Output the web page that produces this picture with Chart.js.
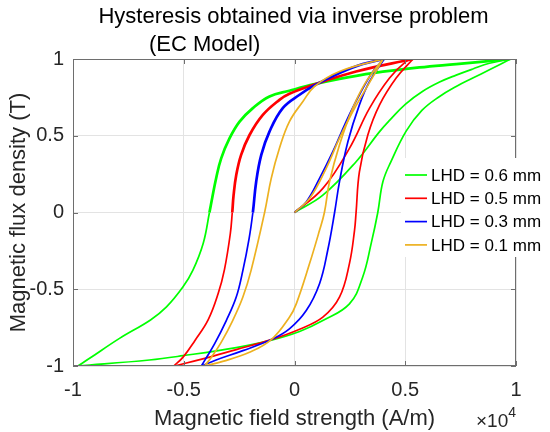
<!DOCTYPE html>
<html>
<head>
<meta charset="utf-8">
<script src="https://cdn.jsdelivr.net/npm/chart.js@4.4.1/dist/chart.umd.min.js"></script>
<style>
  html, body { margin: 0; padding: 0; background: #fff; }
  #wrap { width: 550px; height: 432px; }
</style>
</head>
<body>
<div id="wrap"><canvas id="hystChart"></canvas></div>
<script>
// legend entries, in plot order
var lhdLabels = ['LHD = 0.6 mm', 'LHD = 0.5 mm', 'LHD = 0.3 mm', 'LHD = 0.1 mm'];
var lhdColors = ['#00ff00', '#ff0000', '#0000ff', '#edb120'];

// axis ticks (H in A/m, shown as x10^4)
var xTicks = [-10000, -5000, 0, 5000, 10000];
var yTicks = [-1, -0.5, 0, 0.5, 1];

// H (A/m) and B (T) read off the loops: initial curve, descending branch, ascending branch
// LHD = 0.6 mm
var g_initH = [0, 1280, 2780, 3840, 4290, 5000, 5790, 6550, 7300, 8050, 8800, 9750];
var g_initB = [0, 0.113, 0.331, 0.527, 0.60, 0.705, 0.79, 0.85, 0.895, 0.935, 0.972, 1.0];
var g_downH = [9750, 7300, 5640, 3540, 2030, 900, -230, -1130, -1880, -2480, -2930, -3310, -3540, -3720, -3840, -4120, -4590, -5040, -5790, -6500, -7900, -9250, -9780];
var g_downB = [1.0, 0.967, 0.945, 0.908, 0.871, 0.836, 0.793, 0.756, 0.68, 0.592, 0.484, 0.353, 0.222, 0.091, 0.0, -0.2, -0.377, -0.486, -0.617, -0.70, -0.82, -0.95, -1.0];
var g_upH = [-9780, -6550, -5040, -2630, -1130, 230, 1280, 2480, 3080, 3460, 3760, 3990, 4350, 5040, 5750, 6550, 7300, 8050, 8800, 9750];
var g_upB = [-1.0, -0.961, -0.933, -0.88, -0.835, -0.775, -0.704, -0.595, -0.42, -0.203, 0.0, 0.2, 0.33, 0.53, 0.665, 0.756, 0.821, 0.876, 0.93, 1.0];

// LHD = 0.5 mm
var r_initH = [0, 1280, 2480, 3390, 4290, 5040, 5350];
var r_initB = [0, 0.157, 0.418, 0.68, 0.876, 0.985, 1.0];
var r_downH = [5350, 2780, 900, -230, -680, -1430, -2030, -2410, -2630, -2750, -2810, -2900, -3160, -3450, -3900, -4500, -5040, -5450];
var r_downB = [1.0, 0.919, 0.834, 0.774, 0.734, 0.636, 0.505, 0.375, 0.244, 0.113, 0.0, -0.14, -0.37, -0.53, -0.70, -0.835, -0.944, -1.0];
var r_upH = [-5450, -4140, -2630, -1050, 230, 1280, 2030, 2480, 2710, 2780, 2930, 3310, 3840, 4590, 5350];
var r_upB = [-1.0, -0.954, -0.893, -0.828, -0.76, -0.682, -0.552, -0.333, -0.116, 0.0, 0.265, 0.505, 0.701, 0.876, 1.0];

// LHD = 0.3 mm
var b_initH = [0, 530, 1130, 1730, 2330, 2930, 3540, 4050];
var b_initB = [0, 0.069, 0.222, 0.396, 0.592, 0.767, 0.919, 1.0];
var b_downH = [4050, 3080, 2030, 900, 230, -530, -1130, -1500, -1730, -1880, -2050, -2330, -2630, -3080, -3610, -4060, -4200];
var b_downB = [1.0, 0.967, 0.908, 0.828, 0.767, 0.68, 0.527, 0.375, 0.2, 0.0, -0.17, -0.377, -0.551, -0.704, -0.856, -0.965, -1.0];
var b_upH = [-4200, -3540, -2330, -1050, -230, 530, 1130, 1500, 1810, 2030, 2410, 2930, 3390, 4050];
var b_upB = [-1.0, -0.961, -0.9, -0.828, -0.758, -0.639, -0.464, -0.246, 0.0, 0.2, 0.461, 0.701, 0.854, 1.0];

// LHD = 0.1 mm
var o_initH = [0, 680, 1430, 2030, 2630, 3240, 4000];
var o_initB = [0, 0.091, 0.288, 0.484, 0.658, 0.81, 1.0];
var o_downH = [4000, 2030, 900, 380, -230, -680, -1050, -1350, -1960, -2330, -2790, -3310, -3760, -4060];
var o_downB = [1.0, 0.919, 0.821, 0.723, 0.592, 0.418, 0.222, 0.0, -0.377, -0.551, -0.704, -0.846, -0.944, -1.0];
var o_upH = [-4060, -3240, -2030, -1050, -230, 80, 680, 1130, 1350, 1580, 2030, 2630, 3240, 4000];
var o_upB = [-1.0, -0.97, -0.911, -0.828, -0.682, -0.595, -0.333, -0.116, 0.0, 0.2, 0.44, 0.68, 0.854, 1.0];

var loops = [
    [[g_initH, g_initB], [g_downH, g_downB], [g_upH, g_upB]],
    [[r_initH, r_initB], [r_downH, r_downB], [r_upH, r_upB]],
    [[b_initH, b_initB], [b_downH, b_downB], [b_upH, b_upB]],
    [[o_initH, o_initB], [o_downH, o_downB], [o_upH, o_upB]]
];

function toPoints(h, b) {
    return h.map(function (v, i) { return { x: v, y: b[i] }; });
}

// one dataset per branch, later series drawn on top.
// the upper half of the descending branch is traced twice in the original, so it looks heavier
var datasets = [];
loops.forEach(function (branches, s) {
    branches.forEach(function (br, k) {
        var heavy = (k === 1 && s < 3);
        datasets.push({
            label: lhdLabels[s],
            data: toPoints(br[0], br[1]),
            showLine: true,
            borderColor: lhdColors[s],
            borderWidth: 1.7,
            pointRadius: 0,
            tension: 0.4,
            fill: false,
            order: 4 - s,
            segment: {
                borderWidth: function (c) { return heavy && c.p1.parsed.y > -0.05 ? 2.7 : 1.7; }
            }
        });
    });
});

var FONT = "'Liberation Sans', Arial, Helvetica, sans-serif";

// box, inward ticks, legend, title and the x10^4 exponent (MATLAB look)
var matlabFrame = {
    id: 'matlabFrame',
    afterDatasetsDraw: function (chart) {
        var ctx = chart.ctx, a = chart.chartArea;
        var xs = chart.scales.x, ys = chart.scales.y;
        ctx.save();
        ctx.strokeStyle = '#6e6e6e';
        ctx.lineWidth = 1;
        ctx.strokeRect(Math.round(a.left) + 0.5, Math.round(a.top) + 0.5,
            Math.round(a.right - a.left) - 1, Math.round(a.bottom - a.top) - 1);
        var tl = 5;
        ctx.beginPath();
        xTicks.forEach(function (v) {
            var px = Math.round(xs.getPixelForValue(v)) + 0.5;
            ctx.moveTo(px, a.top); ctx.lineTo(px, a.top + tl);
            ctx.moveTo(px, a.bottom); ctx.lineTo(px, a.bottom - tl);
        });
        yTicks.forEach(function (v) {
            var py = Math.round(ys.getPixelForValue(v)) + 0.5;
            ctx.moveTo(a.left, py); ctx.lineTo(a.left + tl, py);
            ctx.moveTo(a.right, py); ctx.lineTo(a.right - tl, py);
        });
        ctx.stroke();

        // legend
        var lx = 401, ly = 158, rowH = 23.3;
        ctx.fillStyle = '#ffffff';
        ctx.fillRect(lx, ly, 550 - lx, 99);
        ctx.font = '17px ' + FONT;
        ctx.textBaseline = 'middle';
        ctx.textAlign = 'left';
        lhdLabels.forEach(function (lab, i) {
            var y = ly + 17 + i * rowH;
            ctx.strokeStyle = lhdColors[i];
            ctx.lineWidth = 1.7;
            ctx.beginPath();
            ctx.moveTo(405, y); ctx.lineTo(427, y);
            ctx.stroke();
            ctx.fillStyle = '#000000';
            ctx.fillText(lab, 431, y + 1);
        });
        ctx.restore();
    },
    afterDraw: function (chart) {
        var ctx = chart.ctx, a = chart.chartArea;
        ctx.save();
        ctx.fillStyle = '#000000';
        ctx.textBaseline = 'alphabetic';
        ctx.font = '22px ' + FONT;
        ctx.textAlign = 'center';
        ctx.fillText('Hysteresis obtained via inverse problem', (a.left + a.right) / 2 - 1, 23);
        ctx.textAlign = 'left';
        ctx.fillText('(EC Model)', 149, 51);

        // x10^4 exponent label
        ctx.fillStyle = '#262626';
        ctx.textAlign = 'right';
        ctx.font = '14px ' + FONT;
        ctx.fillText('4', a.right, 417);
        var w4 = ctx.measureText('4').width;
        ctx.font = '19px ' + FONT;
        ctx.fillText('\u00d710', a.right - w4, 427);
        ctx.restore();
    }
};

var ctx = document.getElementById('hystChart');
var hystChart = new Chart(ctx, {
    type: 'scatter',
    data: { datasets: datasets },
    options: {
        responsive: true,
        maintainAspectRatio: false,
        animation: false,
        layout: { padding: { top: 59, right: 34, left: 0, bottom: 0 } },
        plugins: {
            legend: { display: false },
            tooltip: { enabled: false }
        },
        scales: {
            x: {
                type: 'linear',
                min: -10000,
                max: 10000,
                afterBuildTicks: function (s) { s.ticks = xTicks.map(function (v) { return { value: v }; }); },
                afterFit: function (s) { s.height = 66; },
                ticks: {
                    callback: function (v) { return String(v / 10000); },
                    font: { family: FONT, size: 20 },
                    color: '#262626',
                    padding: 12,
                    maxRotation: 0
                },
                grid: { color: '#e3e3e3', drawTicks: false },
                border: { display: false },
                title: {
                    display: true,
                    text: 'Magnetic field strength (A/m)',
                    font: { family: FONT, size: 22 },
                    color: '#262626',
                    padding: { top: 0, bottom: 0 }
                }
            },
            y: {
                type: 'linear',
                min: -1,
                max: 1,
                afterBuildTicks: function (s) { s.ticks = yTicks.map(function (v) { return { value: v }; }); },
                afterFit: function (s) { s.width = 73; },
                ticks: {
                    callback: function (v) { return String(v); },
                    font: { family: FONT, size: 20 },
                    color: '#262626',
                    padding: 9
                },
                grid: { color: '#e3e3e3', drawTicks: false },
                border: { display: false },
                title: {
                    display: true,
                    text: 'Magnetic flux density (T)',
                    font: { family: FONT, size: 22 },
                    color: '#262626',
                    padding: { top: 6, bottom: 0 }
                }
            }
        }
    },
    plugins: [matlabFrame]
});
</script>
</body>
</html>
